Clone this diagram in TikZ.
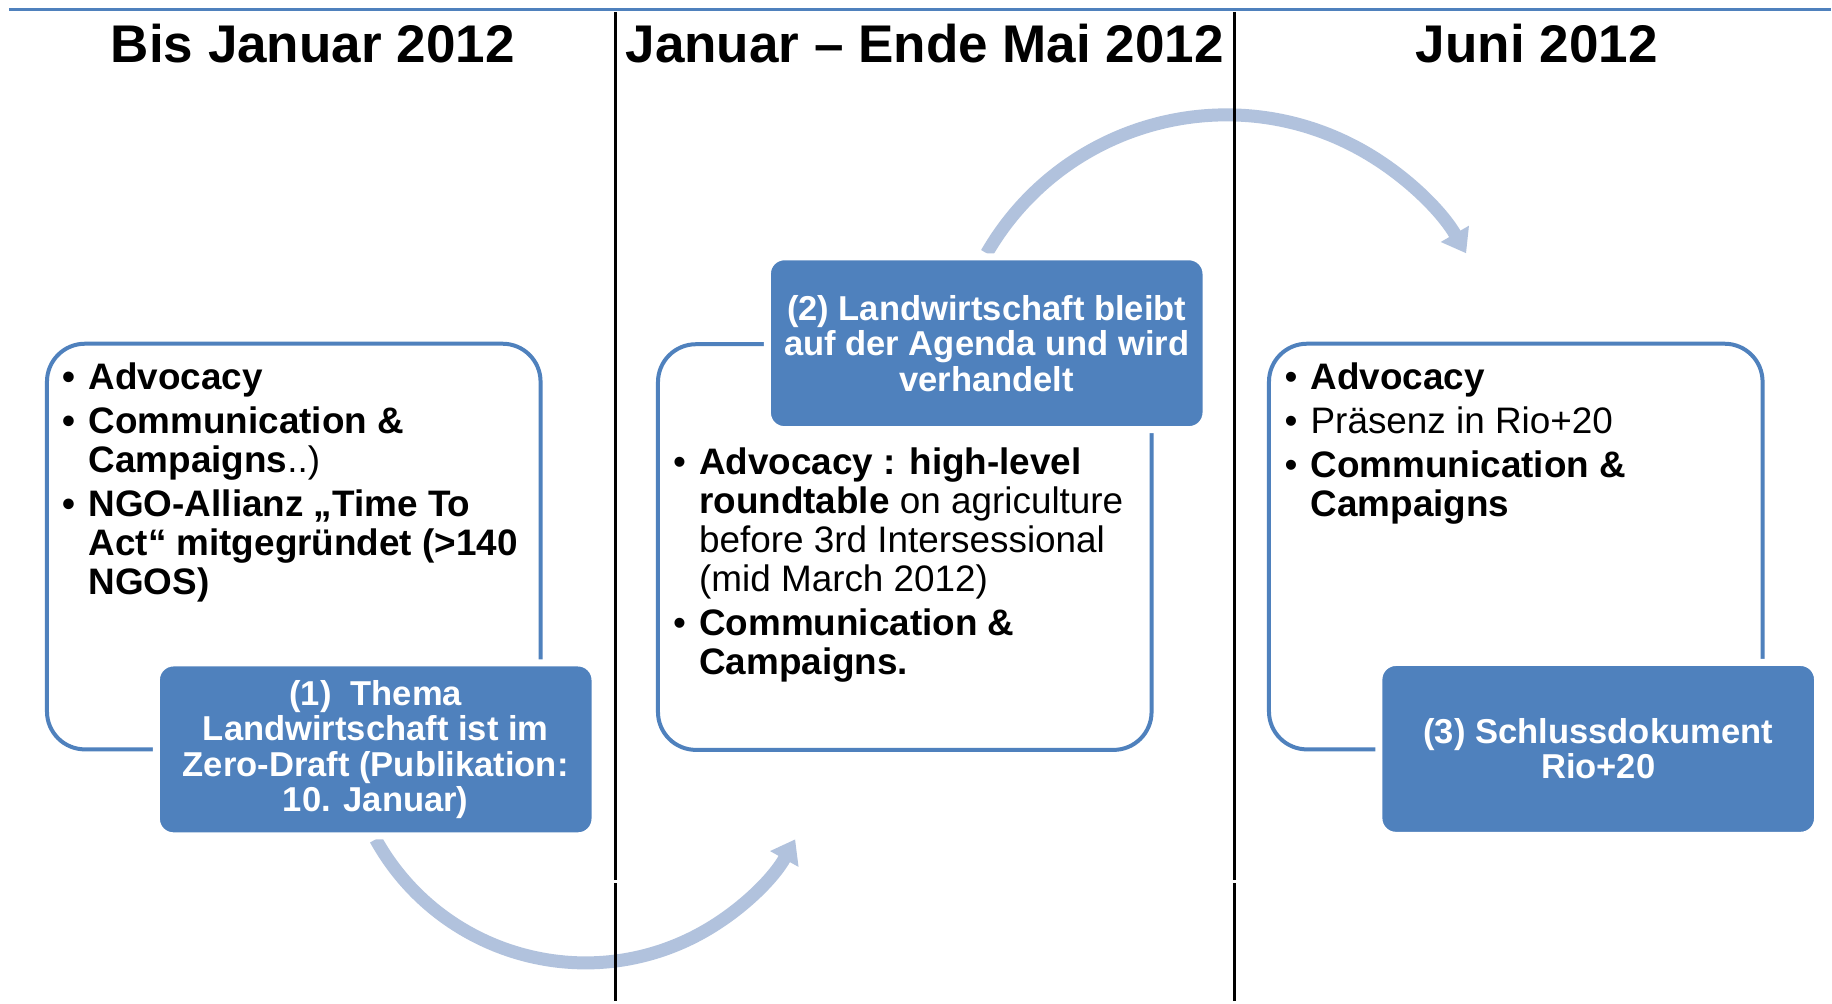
\documentclass[tikz,border=0pt]{standalone}
\usepackage{fontspec}
\setmainfont{Liberation Sans}
\usepackage{xcolor}
\usetikzlibrary{arrows.meta, backgrounds}

\definecolor{accent}{RGB}{79,129,189}
\definecolor{flowblue}{RGB}{177,194,221}

\newcommand{\dotmark}{\makebox[0.26cm][l]{\textbullet}}
\newcommand{\hangpad}{\hspace*{0.26cm}}

\begin{document}
\begin{tikzpicture}[
    frame/.style={draw=accent, line width=0.04cm, rounded corners=0.38cm,
        minimum width=4.94cm, minimum height=4.06cm},
    stage/.style={fill=accent, draw=white, line width=0.07cm, rounded corners=0.17cm,
        minimum width=4.39cm, minimum height=1.73cm, inner sep=0pt,
        text=white, align=center, font=\fontsize{9.84}{10.1}\selectfont\bfseries},
    phase/.style={anchor=base, font=\fontsize{15.1}{18}\selectfont\bfseries},
    points/.style={anchor=base west, align=left, inner sep=0pt,
        font=\fontsize{10.5}{11.1}\selectfont},
    flow/.style={draw=flowblue, line width=0.13cm,
        -{Triangle[width=0.31cm, length=0.225cm]}}
]
    % Headings
    \node[phase] (h1) at (3.13,9.39) {Bis Januar 2012};
    \node[phase] (h2) at (9.255,9.39) {Januar – Ende Mai 2012};
    \node[phase] (h3) at (15.38,9.39) {Juni 2012};

    % Frames
    \node[frame] (f1) at (2.94,4.55) {};
    \node[frame] (f2) at (9.055,4.545) {};
    \node[frame] (f3) at (15.17,4.55) {};

    % Stages
    \node[stage] (b1) at (3.76,2.52) {(1)\ \ Thema\\Landwirtschaft ist im\\Zero-Draft (Publikation:\\10. Januar)};
    \node[stage] (b2) at (9.875,6.585) {(2) Landwirtschaft bleibt\\auf der Agenda und wird\\verhandelt};
    \node[stage] (b3) at (15.995,2.525) {(3) Schlussdokument\\Rio+20};

    % Bullet points (placed at the baseline of their last line)
    \node[points, font=\fontsize{10.5}{11.1}\selectfont\bfseries] (p1) at (0.62,4.07) {%
        \dotmark Advocacy\\[0.05cm]
        \dotmark Communication \&\\
        \hangpad Campaigns{\mdseries..)}\\[0.05cm]
        \dotmark NGO-Allianz „Time To\\
        \hangpad Act“ mitgegründet (>140\\
        \hangpad NGOS)};
    \node[points] (p2) at (6.73,3.27) {%
        \dotmark\textbf{Advocacy : high-level}\\
        \hangpad\textbf{roundtable} on agriculture\\
        \hangpad before 3rd Intersessional\\
        \hangpad (mid March 2012)\\[0.05cm]
        \dotmark\textbf{Communication \&}\\
        \hangpad\textbf{Campaigns.}};
    \node[points] (p3) at (12.85,4.85) {%
        \dotmark\textbf{Advocacy}\\[0.05cm]
        \dotmark Präsenz in Rio+20\\[0.05cm]
        \dotmark\textbf{Communication \&}\\
        \hangpad\textbf{Campaigns}};

    % Arrows between stages
    \begin{scope}[on background layer]
        \fill[white] (0,0) rectangle (18.32,10.02);
        \draw[flow] (b1.south) arc[start angle=209, end angle=331, radius=2.4];
        \draw[flow] (b2.north) arc[start angle=150, end angle=30, radius=2.77];
    \end{scope}

    % Rules
    \draw[accent, line width=0.03cm] (0.09,9.927) -- (18.32,9.927);
    \draw[line width=0.03cm] (6.16,9.90) -- (6.16,1.21) (6.16,1.18) -- (6.16,0);
    \draw[line width=0.03cm] (12.35,9.90) -- (12.35,1.21) (12.35,1.18) -- (12.35,0);
\end{tikzpicture}
\end{document}
